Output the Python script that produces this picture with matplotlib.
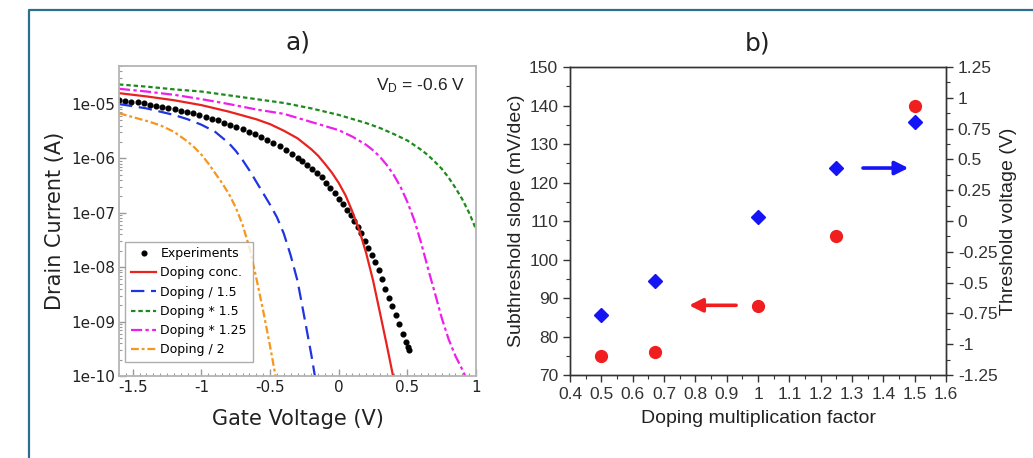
import matplotlib
matplotlib.use("Agg")
import matplotlib.pyplot as plt
import numpy as np
from matplotlib.lines import Line2D
from matplotlib.ticker import FuncFormatter, MultipleLocator, LogLocator, NullFormatter

# ---- panel a: transfer curves (log10 of drain current) ----
exp_vg = [-1.600, -1.555, -1.510, -1.465, -1.420, -1.375, -1.330, -1.285, -1.240, -1.195,
          -1.150, -1.105, -1.060, -1.015, -0.970, -0.925, -0.880, -0.835, -0.790, -0.745,
          -0.700, -0.655, -0.610, -0.565, -0.520, -0.475, -0.430, -0.385, -0.340, -0.300,
          -0.265, -0.230, -0.195, -0.160, -0.125, -0.090, -0.060, -0.030, 0.000, 0.030,
          0.060, 0.090, 0.115, 0.140, 0.165, 0.190, 0.215, 0.240, 0.265, 0.290,
          0.315, 0.340, 0.365, 0.390, 0.415, 0.440, 0.465, 0.490, 0.505, 0.512]
exp_logi = [-4.93, -4.94, -4.96, -4.97, -4.99, -5.01, -5.03, -5.05, -5.07, -5.09,
            -5.12, -5.15, -5.17, -5.20, -5.23, -5.27, -5.30, -5.34, -5.38, -5.42,
            -5.46, -5.51, -5.55, -5.60, -5.66, -5.72, -5.78, -5.85, -5.92, -5.99,
            -6.05, -6.12, -6.19, -6.27, -6.35, -6.45, -6.55, -6.64, -6.74, -6.84,
            -6.94, -7.04, -7.15, -7.26, -7.38, -7.52, -7.65, -7.78, -7.91, -8.06,
            -8.22, -8.40, -8.56, -8.72, -8.88, -9.05, -9.22, -9.38, -9.47, -9.52]

base_vg = [-1.6, -1.4, -1.2, -1.0, -0.8, -0.6, -0.5, -0.4, -0.3, -0.2, -0.15, -0.1, -0.05,
           0.0, 0.05, 0.1, 0.15, 0.2, 0.25, 0.3, 0.35, 0.4]
base_logi = [-4.80, -4.86, -4.93, -5.02, -5.14, -5.28, -5.37, -5.49, -5.63, -5.83, -5.95,
             -6.10, -6.26, -6.45, -6.68, -6.98, -7.32, -7.74, -8.24, -8.83, -9.43, -10.05]

div15_vg = [-1.6, -1.4, -1.2, -1.1, -1.0, -0.9, -0.8, -0.75, -0.7, -0.65, -0.6, -0.55,
            -0.5, -0.45, -0.4, -0.35, -0.3, -0.25, -0.2, -0.17]
div15_logi = [-5.00, -5.08, -5.20, -5.28, -5.38, -5.51, -5.72, -5.86, -6.03, -6.22, -6.43,
              -6.64, -6.85, -7.08, -7.38, -7.78, -8.25, -8.92, -9.60, -10.05]

mul15_vg = [-1.6, -1.4, -1.2, -1.0, -0.8, -0.6, -0.4, -0.2, 0.0, 0.2, 0.3, 0.4, 0.5, 0.6,
            0.65, 0.7, 0.75, 0.8, 0.85, 0.9, 0.95, 1.0]
mul15_logi = [-4.64, -4.68, -4.73, -4.77, -4.84, -4.91, -4.98, -5.08, -5.20, -5.35, -5.44,
              -5.55, -5.67, -5.84, -5.94, -6.06, -6.19, -6.35, -6.54, -6.75, -7.00, -7.30]

mul125_vg = [-1.6, -1.4, -1.2, -1.0, -0.8, -0.6, -0.4, -0.2, 0.0, 0.1, 0.2, 0.25, 0.3,
             0.35, 0.4, 0.45, 0.5, 0.55, 0.6, 0.65, 0.7, 0.75, 0.8, 0.85, 0.9, 0.93]
mul125_logi = [-4.72, -4.77, -4.83, -4.91, -5.00, -5.10, -5.18, -5.33, -5.48, -5.60, -5.75,
               -5.85, -5.97, -6.12, -6.30, -6.52, -6.80, -7.13, -7.55, -8.02, -8.47, -8.93,
               -9.32, -9.63, -9.88, -10.05]

div2_vg = [-1.6, -1.5, -1.4, -1.3, -1.2, -1.1, -1.05, -1.0, -0.95, -0.9, -0.85, -0.8,
           -0.75, -0.7, -0.65, -0.6, -0.55, -0.5, -0.46]
div2_logi = [-5.17, -5.24, -5.31, -5.39, -5.51, -5.69, -5.80, -5.93, -6.09, -6.27, -6.45,
             -6.65, -6.90, -7.22, -7.64, -8.20, -8.80, -9.45, -10.00]

# ---- panel b: extracted parameters ----
factor = [0.5, 0.67, 1.0, 1.25, 1.5]
ss = [75, 76, 88, 106, 140]
vth = [-0.76, -0.49, 0.03, 0.43, 0.80]

arial = "Liberation Sans"
plt.rcParams["mathtext.fontset"] = "custom"
plt.rcParams["mathtext.rm"] = arial
plt.rcParams["mathtext.it"] = arial + ":italic"

fig = plt.figure(figsize=(10.33, 4.58), dpi=100)

# ================= panel a =================
ax = fig.add_axes([0.1152, 0.179, 0.3456, 0.677])
ax.plot(exp_vg, 10 ** np.array(exp_logi), ls="none", marker="o", ms=3.4,
        color="black", label="Experiments")
ax.plot(base_vg, 10 ** np.array(base_logi), color="#e8231f", lw=1.6, label="Doping conc.")
ax.plot(div15_vg, 10 ** np.array(div15_logi), color="#1f35e0", lw=1.6,
        dashes=(6, 3), label="Doping / 1.5")
ax.plot(mul15_vg, 10 ** np.array(mul15_logi), color="#1e8a1e", lw=1.6,
        dashes=(2, 1.3), label="Doping * 1.5")
ax.plot(mul125_vg, 10 ** np.array(mul125_logi), color="#ee1fee", lw=1.6,
        dashes=(5, 1.5, 1.5, 1.5), label="Doping * 1.25")
ax.plot(div2_vg, 10 ** np.array(div2_logi), color="#f5961e", lw=1.6,
        dashes=(3.5, 1.3, 1.3, 1.3), label="Doping / 2")

ax.set_yscale("log")
ax.set_xlim(-1.6, 1.0)
ax.set_ylim(1e-10, 10 ** -4.3)
ax.xaxis.set_major_locator(MultipleLocator(0.5))
ax.xaxis.set_minor_locator(MultipleLocator(0.05))
ax.xaxis.set_major_formatter(FuncFormatter(lambda v, p: "%g" % round(v, 2)))
ax.yaxis.set_major_locator(LogLocator(base=10, numticks=20))
ax.yaxis.set_minor_locator(LogLocator(base=10, subs=np.arange(2, 10), numticks=20))
ax.yaxis.set_minor_formatter(NullFormatter())
ax.yaxis.set_major_formatter(FuncFormatter(lambda v, p: "%.0e" % v))
for s in ax.spines.values():
    s.set_color("#b4b4b4")
    s.set_linewidth(1.3)
ax.tick_params(which="both", direction="in", colors="#9a9a9a", labelcolor="#222222",
               top=False, right=False)
ax.tick_params(which="major", length=5, width=1, labelsize=11, pad=3)
ax.tick_params(which="minor", length=2.5, width=0.8)
ax.set_xlabel("Gate Voltage (V)", fontsize=15, color="#222222", labelpad=10)
ax.set_ylabel("Drain Current (A)", fontsize=15, color="#222222", labelpad=4)
ax.set_title("a)", fontsize=18, pad=12, color="#222222")
ax.text(0.97, 0.935, r"V$_\mathrm{D}$ = -0.6 V", transform=ax.transAxes,
        ha="right", va="center", fontsize=12.5, family=arial, color="#222222")
leg = ax.legend(loc="lower left", bbox_to_anchor=(0.018, 0.045), borderaxespad=0,
                fontsize=9, frameon=True, fancybox=False, numpoints=1,
                handlelength=2.0, labelspacing=0.5, handletextpad=0.35,
                borderpad=0.45)
leg.get_frame().set_edgecolor("#999999")
leg.get_frame().set_linewidth(1.0)

# build panel a ticks with the default face before switching fonts
fig.canvas.draw()
plt.rcParams["font.family"] = arial

# ================= panel b =================
bx = fig.add_axes([0.5518, 0.1812, 0.364, 0.6725])
bx2 = bx.twinx()
bx.plot(factor, ss, ls="none", marker="o", ms=8.5, color="#f01e1e", mec="#f01e1e")
bx2.plot(factor, vth, ls="none", marker="D", ms=7.5, color="#1414f5", mec="#1414f5")

bx.set_xlim(0.4, 1.6)
bx.set_ylim(70, 150)
bx2.set_ylim(-1.25, 1.25)
bx.xaxis.set_major_locator(MultipleLocator(0.1))
bx.xaxis.set_minor_locator(MultipleLocator(0.05))
bx.xaxis.set_major_formatter(FuncFormatter(lambda v, p: "%g" % round(v, 2)))
bx.yaxis.set_major_locator(MultipleLocator(10))
bx.yaxis.set_minor_locator(MultipleLocator(5))
bx2.yaxis.set_major_locator(MultipleLocator(0.25))
bx2.yaxis.set_minor_locator(MultipleLocator(0.125))
bx2.yaxis.set_major_formatter(FuncFormatter(lambda v, p: "%g" % round(v, 3)))

for a in (bx, bx2):
    for s in a.spines.values():
        s.set_color("#333333")
        s.set_linewidth(1.0)
    a.tick_params(which="both", direction="out", colors="#333333", labelsize=12.5)
    a.tick_params(which="major", length=5, width=1)
    a.tick_params(which="minor", length=3, width=0.8)
bx.tick_params(top=False)
bx.set_xlabel("Doping multiplication factor", fontsize=14, color="#222222", labelpad=6)
bx.set_ylabel("Subthreshold slope (mV/dec)", fontsize=14, color="#222222", labelpad=3)
bx2.set_ylabel("Threshold voltage (V)", fontsize=14, color="#222222", labelpad=2)
bx.set_title("b)", fontsize=18, pad=12, color="#222222", family="DejaVu Sans")

bx.annotate("", xy=(0.78, 88.1), xytext=(0.93, 88.1),
            arrowprops=dict(arrowstyle="-|>", color="#f01e1e", lw=2.6,
                            mutation_scale=20, shrinkA=0, shrinkB=0))
bx2.annotate("", xy=(1.48, 0.43), xytext=(1.335, 0.43),
             arrowprops=dict(arrowstyle="-|>", color="#1414f5", lw=2.6,
                             mutation_scale=20, shrinkA=0, shrinkB=0))

# frame around the figure
fx = 29 / 1033
fy = 1 - 10 / 458
fig.add_artist(Line2D([fx, fx, 1.0], [0.0, fy, fy], transform=fig.transFigure,
                      color="#2b6f8f", lw=1.6))

fig.savefig("out.png", dpi=100)
